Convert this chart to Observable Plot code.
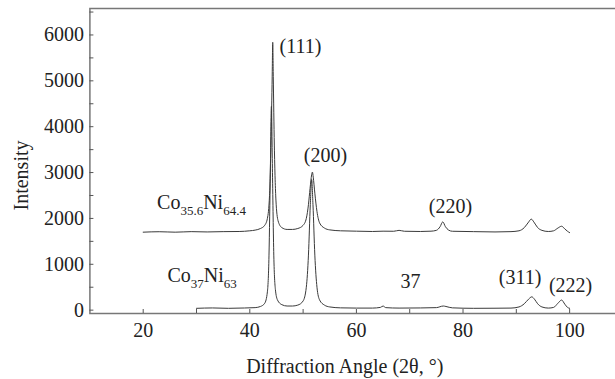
<!DOCTYPE html>
<html>
<head>
<meta charset="utf-8">
<script src="https://cdn.jsdelivr.net/npm/d3@7"></script>
<script src="https://cdn.jsdelivr.net/npm/@observablehq/plot@0.6"></script>
<style>
  html, body { margin: 0; padding: 0; background: #fff; }
  #chart { width: 615px; height: 379px; }
  #chart svg, #chart svg text { font-family: "Liberation Serif", "Times New Roman", serif !important; }
</style>
</head>
<body>
<div id="chart"></div>
<script>
// Upper pattern: Co35.6Ni64.4
const angleUpper = [20, 23, 26, 29, 32, 35, 38, 40, 41, 42, 42.8, 43.3, 43.7, 44.0, 44.2, 44.3, 44.4, 44.6, 44.9, 45.3, 46, 47, 48, 49, 50, 50.6, 51.0, 51.3, 51.6, 51.75, 51.9, 52.2, 52.6, 53.1, 54, 55, 57, 60, 63, 65, 67, 68, 69, 72, 74, 75, 75.7, 76.2, 76.7, 77.3, 78, 82, 86, 89, 90.5, 91.5, 92.3, 92.8, 93.3, 94, 94.8, 96, 97, 97.8, 98.5, 99.1, 99.6, 100];
const intensityUpper = [1700, 1710, 1700, 1712, 1705, 1712, 1715, 1730, 1745, 1780, 1850, 2000, 2500, 3800, 5100, 5840, 5100, 3600, 2400, 1950, 1800, 1760, 1760, 1780, 1850, 2000, 2300, 2650, 2950, 3010, 2900, 2550, 2150, 1900, 1790, 1750, 1730, 1722, 1715, 1722, 1720, 1740, 1720, 1715, 1722, 1740, 1820, 1925, 1820, 1745, 1720, 1712, 1705, 1712, 1730, 1800, 1920, 1985, 1920, 1800, 1740, 1715, 1730, 1790, 1830, 1770, 1720, 1690];

// Lower pattern: Co37Ni63
const angleLower = [30, 33, 36, 39, 41, 42, 42.8, 43.3, 43.6, 43.85, 44.05, 44.25, 44.5, 44.8, 45.2, 46, 47, 48, 49, 50, 50.6, 51.0, 51.35, 51.6, 51.85, 52.2, 52.6, 53.1, 54, 55, 57, 60, 63, 64.5, 65, 65.5, 68, 72, 75, 76.3, 76.8, 78, 82, 86, 89, 90.5, 91.5, 92.3, 92.9, 93.4, 94, 94.8, 96, 97, 97.8, 98.5, 99.1, 99.6, 100];
const intensityLower = [40, 48, 40, 47, 55, 80, 150, 400, 1200, 3000, 4440, 3000, 1200, 450, 220, 120, 90, 90, 110, 200, 500, 1200, 2300, 2850, 2300, 1200, 500, 220, 110, 70, 50, 45, 45, 60, 90, 55, 45, 48, 55, 90, 80, 50, 40, 42, 45, 70, 140, 240, 290, 240, 140, 70, 45, 60, 150, 220, 130, 60, 40];

// Tick values
const xTicks = [20, 40, 60, 80, 100];
const xMinorTicks = [20, 30, 40, 50, 60, 70, 80, 90, 100];
const yTicks = [0, 1000, 2000, 3000, 4000, 5000, 6000];
const yMinorTicks = [0, 500, 1000, 1500, 2000, 2500, 3000, 3500, 4000, 4500, 5000, 5500, 6000, 6500];

// Peak labels (positioned in data units)
const peakNames = ["(111)", "(200)", "(220)", "(311)", "(222)", "37"];
const peakAngles = [49.5, 54.2, 77.65, 90.7, 100.17, 70.15];
const peakIntensities = [5749, 3375, 2265, 719, 544, 632];

// Sample labels ({} = subscript)
const sampleNames = ["Co{35.6}Ni{64.4}", "Co{37}Ni{63}"];
const sampleAngles = [22.6, 24.56];
const sampleIntensities = [2200, 610];

const series = [
  ...angleUpper.map((a, i) => ({angle: a, intensity: intensityUpper[i], sample: "upper"})),
  ...angleLower.map((a, i) => ({angle: a, intensity: intensityLower[i], sample: "lower"}))
];
const peaks = peakNames.map((n, i) => ({name: n, angle: peakAngles[i], intensity: peakIntensities[i]}));
const samples = sampleNames.map((n, i) => ({name: n, angle: sampleAngles[i], intensity: sampleIntensities[i]}));

const font = "'Liberation Serif', 'Times New Roman', serif";
const axisColor = "#555";
const textColor = "#222";

const chart = Plot.plot({
  width: 615,
  height: 379,
  marginLeft: 89.4,
  marginRight: -2.1,
  marginTop: 8,
  marginBottom: 66,
  style: {fontFamily: font, fontSize: "20px", background: "#fff", color: textColor},
  x: {domain: [10, 109]},
  y: {domain: [-73, 6577]},
  marks: [
    Plot.frame({stroke: "#777", strokeWidth: 1.5}),
    Plot.axisX(xMinorTicks, {tickSize: -4, text: null, label: null, stroke: axisColor}),
    Plot.axisX(xTicks, {tickSize: 0, tickPadding: 9, label: null, tickFormat: d => String(d), fontSize: 20, fontFamily: font, fill: textColor}),
    Plot.axisY(yMinorTicks, {tickSize: -4, text: null, label: null, stroke: axisColor}),
    Plot.axisY(yTicks, {tickSize: 0, tickPadding: 6, label: null, tickFormat: d => String(d), fontSize: 20, fontFamily: font, fill: textColor}),
    Plot.line(series, {x: "angle", y: "intensity", z: "sample", stroke: "#3a3a3a", strokeWidth: 1, curve: "monotone-x"}),
    Plot.text(peaks, {x: "angle", y: "intensity", text: "name", fontSize: 20, fontFamily: font, fill: textColor, textAnchor: "middle", lineAnchor: "middle"}),
    Plot.text(samples, {x: "angle", y: "intensity", text: "name", fontSize: 20, fontFamily: font, fill: textColor, textAnchor: "start", lineAnchor: "bottom"}),
    Plot.text(["Intensity"], {frameAnchor: "left", dx: -68, dy: 14.5, rotate: -90, fontSize: 20, fontFamily: font, fill: textColor, textAnchor: "middle", lineAnchor: "middle"}),
    Plot.text(["Diffraction Angle (2θ, °)"], {frameAnchor: "bottom", dx: -9, dy: 53, fontSize: 20, fontFamily: font, fill: textColor, textAnchor: "middle", lineAnchor: "middle"})
  ]
});

// Subscripts for the sample formulas
chart.querySelectorAll("text").forEach(t => {
  const s = t.textContent;
  if (!s.includes("{")) return;
  while (t.firstChild) t.removeChild(t.firstChild);
  let sub = false;
  for (const m of s.matchAll(/\{([^}]*)\}|([^{]+)/g)) {
    const ts = document.createElementNS("http://www.w3.org/2000/svg", "tspan");
    if (m[1] != null) {
      ts.textContent = m[1];
      ts.setAttribute("font-size", "13");
      ts.setAttribute("dy", sub ? "0" : "6");
      sub = true;
    } else {
      ts.textContent = m[2];
      if (sub) ts.setAttribute("dy", "-6");
      sub = false;
    }
    t.appendChild(ts);
  }
});

document.getElementById("chart").appendChild(chart);
</script>
</body>
</html>
